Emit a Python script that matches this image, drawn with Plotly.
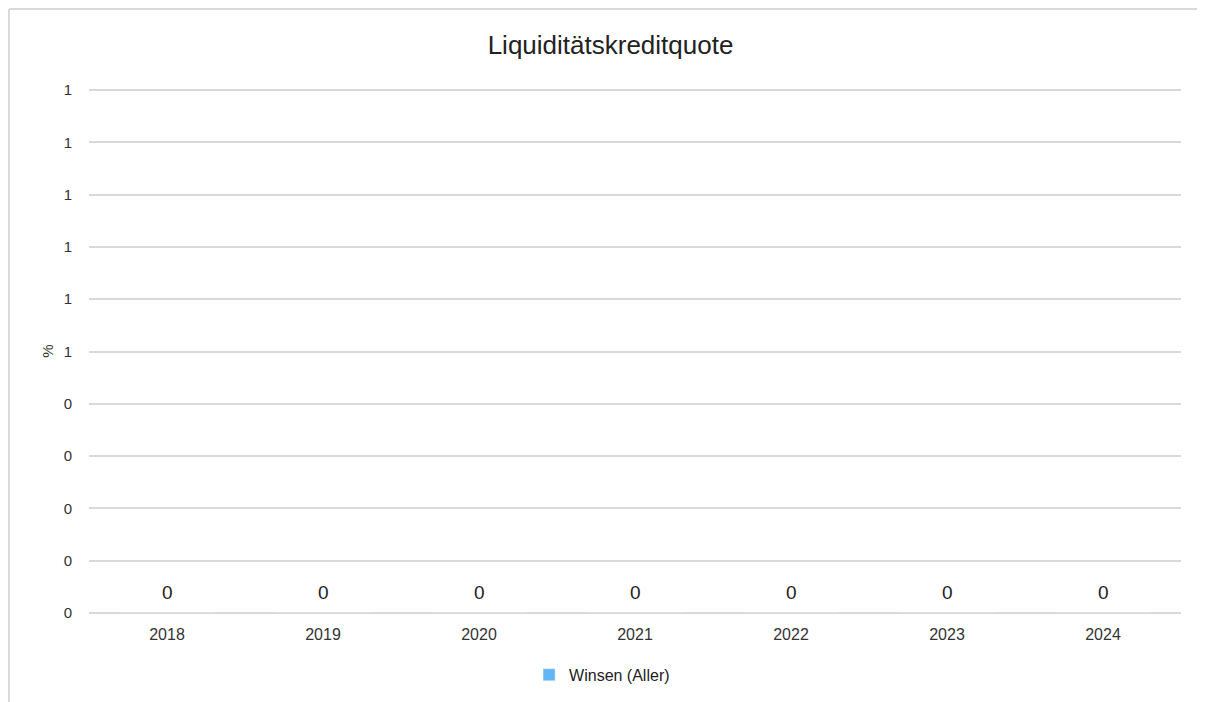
import plotly.graph_objects as go

# Daten
jahre = ["2018", "2019", "2020", "2021", "2022", "2023", "2024"]
quote = [0, 0, 0, 0, 0, 0, 0]
y_ticks = [0, 0.1, 0.2, 0.3, 0.4, 0.5, 0.6, 0.7, 0.8, 0.9, 1.0]
y_labels = ["0", "0", "0", "0", "0", "1", "1", "1", "1", "1", "1"]

fig = go.Figure(
    go.Bar(
        x=jahre,
        y=quote,
        name="Winsen (Aller)",
        marker=dict(color="#63b6f5"),
        width=0.6,
    )
)

# Datenbeschriftungen über den (leeren) Balken; x als Kategorie-Index
labels = [
    dict(x=i, y=v, xref="x", yref="y", text=f"{v:.0f}", showarrow=False,
         yanchor="middle", yshift=21, font=dict(size=19, color="#222222"))
    for i, v in enumerate(quote)
]

fig.update_layout(
    width=1205,
    height=702,
    paper_bgcolor="white",
    plot_bgcolor="white",
    font=dict(family="Liberation Sans, Arial, sans-serif", size=16, color="#333333"),
    title=dict(text="Liquiditätskreditquote", x=0.5, xanchor="center", y=0.947,
               yanchor="middle", font=dict(size=26, color="#222222")),
    margin=dict(l=81, r=32, t=81, b=97),
    showlegend=True,
    legend=dict(orientation="h", x=0.403, xanchor="left", y=-0.118, yanchor="middle",
                font=dict(size=16, color="#222222"), itemwidth=30),
    annotations=labels,
    shapes=[
        dict(type="line", xref="paper", yref="paper", x0=-0.0733, x1=1.05, y0=1.1527, y1=1.1527,
             line=dict(color="#d9d9d9", width=2)),
        dict(type="line", xref="paper", yref="paper", x0=-0.0733, x1=-0.0733, y0=1.1527, y1=-0.2,
             line=dict(color="#d9d9d9", width=2)),
    ],
)

fig.update_xaxes(type="category", range=[-0.5, len(jahre) - 0.5], showgrid=False,
                 showline=False, ticks="", tickfont=dict(size=16), ticklabelstandoff=10)
fig.update_yaxes(range=[0, 1.002], tickvals=y_ticks, ticktext=y_labels, showgrid=True,
                 gridcolor="#d9d9d9", gridwidth=1.5, zeroline=True, zerolinecolor="#d9d9d9",
                 zerolinewidth=1.5, showline=False, ticks="", tickfont=dict(size=15),
                 ticklabelstandoff=16,
                 title=dict(text="%", font=dict(size=15), standoff=6))

fig.write_html("out.html")
